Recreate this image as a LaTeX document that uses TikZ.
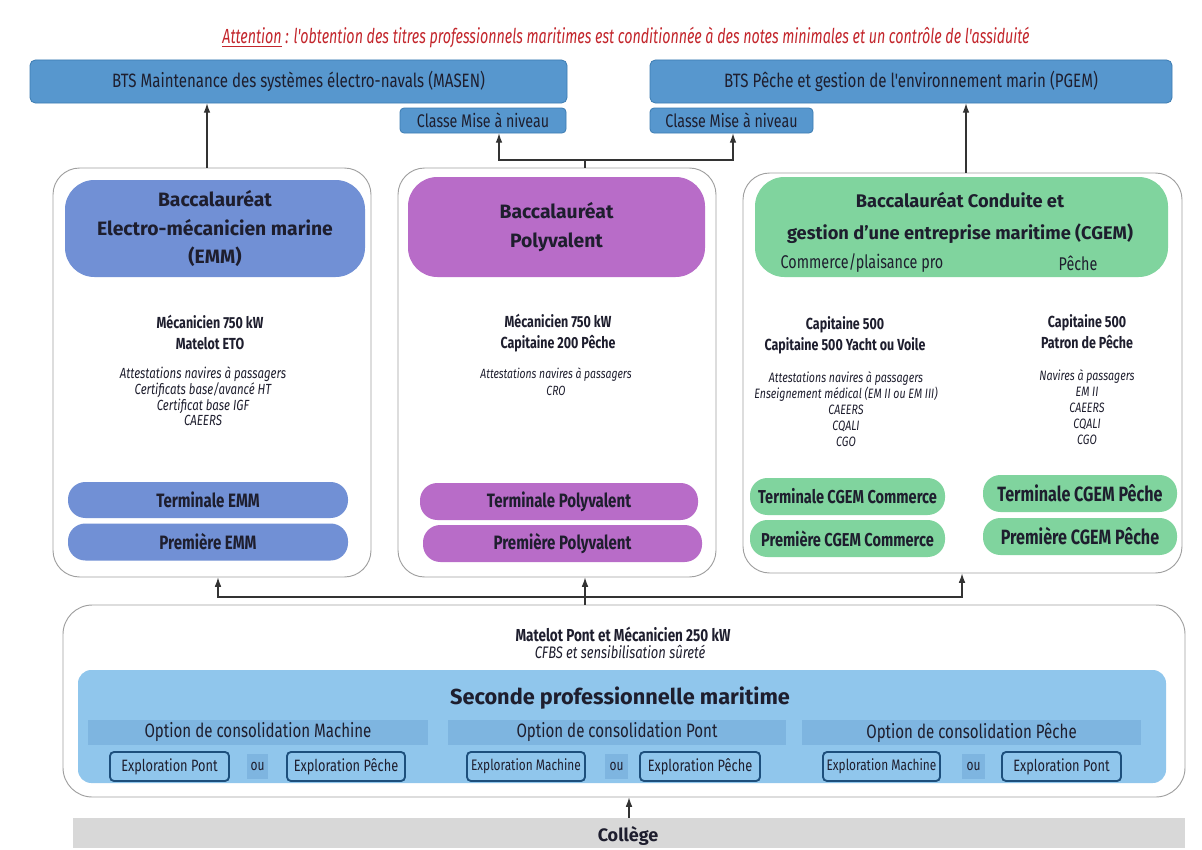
\documentclass[tikz,border=0pt]{standalone}
\usepackage{fontspec}
\setmainfont{Fira Sans}
\newfontfamily\cnd{Fira Sans}[FakeStretch=0.78]
\newfontfamily\cndt{Fira Sans}[FakeStretch=0.70]
\usetikzlibrary{arrows.meta}
\definecolor{ink}{HTML}{1E1E2E}
\definecolor{red1}{HTML}{C3262C}
\definecolor{btsc}{HTML}{5797CE}
\definecolor{btsd}{HTML}{3C7CB2}
\definecolor{emmc}{HTML}{7190D5}
\definecolor{polyc}{HTML}{B86CC8}
\definecolor{cgemc}{HTML}{80D49E}
\definecolor{secc}{HTML}{90C6EC}
\definecolor{optc}{HTML}{7EB5E0}
\definecolor{expd}{HTML}{1D4F7C}
\definecolor{colc}{HTML}{D8D8D8}
\definecolor{pgrey}{HTML}{A0A0A0}
\definecolor{lnc}{HTML}{333333}
\tikzset{
  wh/.style 2 args={minimum width=#1*0.75pt, minimum height=#2*0.75pt},
  bts/.style={rectangle, rounded corners=4pt, fill=btsc, draw=btsd, line width=0.6pt, inner sep=0pt, text=ink, font=\cnd\fontsize{14.5}{16}\selectfont},
  panel/.style={rectangle, rounded corners=20pt, fill=white, draw=pgrey, line width=0.7pt, inner sep=0pt},
  hdr/.style={rectangle, rounded corners=22pt, inner sep=0pt, align=center, text=ink, font=\bfseries\fontsize{14.5}{21.5}\selectfont},
  pill/.style={rectangle, rounded corners=13pt, inner sep=0pt, text=ink, font=\cnd\bfseries\fontsize{14.5}{16}\selectfont},
  btxt/.style={align=center, inner sep=0pt, text=ink, font=\cnd\bfseries\fontsize{12}{15.75}\selectfont},
  itxt/.style={align=center, inner sep=0pt, text=ink, font=\cnd\itshape\fontsize{10}{11.8}\selectfont},
  optbox/.style={rectangle, fill=optc, inner sep=0pt, text=ink, font=\cnd\fontsize{14.5}{16}\selectfont},
  expbox/.style={rectangle, rounded corners=3pt, fill=secc, draw=expd, line width=1.4pt, inner sep=0pt, text=ink, font=\cnd\fontsize{12.3}{14}\selectfont},
  oubox/.style={rectangle, fill=optc, inner sep=0pt, text=ink, font=\cnd\fontsize{11.5}{13}\selectfont},
  arr/.style={draw=lnc, line width=0.8pt, -{Latex[length=7pt,width=5pt]}},
  ln/.style={draw=lnc, line width=0.8pt}
}
\begin{document}
\begin{tikzpicture}[x=0.75pt,y=-0.75pt]
\useasboundingbox[fill=white] (0,0) rectangle (1202,849);

% title
\node[inner sep=0pt, text=red1, font=\cndt\itshape\fontsize{15.3}{17}\selectfont] (title) at (626,38)
  {\underline{Attention} : l'obtention des titres professionnels maritimes est conditionnée à des notes minimales et un contrôle de l'assiduité};

% BTS
\node[bts, wh={537}{43}] (bts1) at (298.5,81.5) {BTS Maintenance des systèmes électro-navals (MASEN)};
\node[bts, wh={522}{43}] (bts2) at (911,81.5) {BTS Pêche et gestion de l'environnement marin (PGEM)};
\node[bts, wh={166}{25}, rounded corners=3pt, font=\cnd\fontsize{13.7}{15}\selectfont] (cmn1) at (483,120.5) {Classe Mise à niveau};
\node[bts, wh={163}{25}, rounded corners=3pt, font=\cnd\fontsize{13.7}{15}\selectfont] (cmn2) at (731.5,120.5) {Classe Mise à niveau};

% panels
\node[panel, wh={318}{409}] (pEMM) at (212,372.5) {};
\node[panel, wh={318}{409}] (pPoly) at (557,372.5) {};
\node[panel, wh={439}{400}] (pCGEM) at (962.5,373) {};

% EMM
\node[hdr, fill=emmc, wh={300}{97}] (hEMM) at (215,228.5) {Baccalauréat\\Electro-mécanicien marine\\(EMM)};
\node[btxt] (bEMM) at (210,332.5) {Mécanicien 750 kW\\Matelot ETO};
\node[itxt, font=\cnd\itshape\fontsize{11}{11.8}\selectfont] (iEMM) at (203,396.5) {Attestations navires à passagers\\Certificats base/avancé HT\\Certificat base IGF\\CAEERS};
\node[pill, fill=emmc, wh={280}{36}] (tEMM) at (208,500) {Terminale EMM};
\node[pill, fill=emmc, wh={280}{37}] (prEMM) at (208,542) {Première EMM};

% Polyvalent
\node[hdr, fill=polyc, wh={297}{100}, font=\bfseries\fontsize{14.5}{22}\selectfont] (hPoly) at (556.5,227) {Baccalauréat\\Polyvalent};
\node[btxt] (bPoly) at (558,333) {Mécanicien 750 kW\\Capitaine 200 Pêche};
\node[itxt, font=\cnd\itshape\fontsize{10}{12.5}\selectfont] (iPoly) at (556,381.5) {Attestations navires à passagers\\CRO};
\node[pill, fill=polyc, wh={278}{37}] (tPoly) at (559,501.5) {Terminale Polyvalent};
\node[pill, fill=polyc, wh={279}{37}] (prPoly) at (562.5,543.5) {Première Polyvalent};

% CGEM
\node[hdr, fill=cgemc, wh={413}{100}] (hCGEM) at (961.5,227) {};
\node[align=center, inner sep=0pt, text=ink, font=\bfseries\fontsize{13.7}{23.5}\selectfont] (ttCGEM) at (960,218) {Baccalauréat Conduite et\\gestion d'une entreprise maritime (CGEM)};
\node[inner sep=0pt, text=ink, font=\cnd\fontsize{13.8}{15}\selectfont] (cpp) at (862,263) {Commerce/plaisance pro};
\node[inner sep=0pt, text=ink, font=\cnd\fontsize{13.8}{15}\selectfont] (pch) at (1078,263) {Pêche};
\node[btxt] (bCGEMc) at (845,335) {Capitaine 500\\Capitaine 500 Yacht ou Voile};
\node[itxt, font=\cnd\itshape\fontsize{10.2}{12}\selectfont] (iCGEMc) at (846,409) {Attestations navires à passagers\\Enseignement médical (EM II ou EM III)\\CAEERS\\CQALI\\CGO};
\node[btxt] (bCGEMp) at (1087,332) {Capitaine 500\\Patron de Pêche};
\node[itxt, font=\cnd\itshape\fontsize{10.2}{12}\selectfont] (iCGEMp) at (1087,407) {Navires à passagers\\EM II\\CAEERS\\CQALI\\CGO};
\node[pill, fill=cgemc, wh={195}{37}, font=\cnd\bfseries\fontsize{14}{16}\selectfont] (tCGEMc) at (847.5,496.5) {Terminale CGEM Commerce};
\node[pill, fill=cgemc, wh={195}{37}, font=\cnd\bfseries\fontsize{14}{16}\selectfont] (prCGEMc) at (847.5,538.5) {Première CGEM Commerce};
\node[pill, fill=cgemc, wh={194}{37}, font=\cnd\bfseries\fontsize{15.5}{17}\selectfont] (tCGEMp) at (1080,493.5) {Terminale CGEM Pêche};
\node[pill, fill=cgemc, wh={194}{37}, font=\cnd\bfseries\fontsize{15.5}{17}\selectfont] (prCGEMp) at (1080,536.5) {Première CGEM Pêche};

% bottom panel
\node[panel, wh={1122}{192}, rounded corners=22pt] (pSec) at (624,701) {};
\node[btxt, font=\cnd\bfseries\fontsize{13}{15}\selectfont] (mat) at (623,634) {Matelot Pont et Mécanicien 250 kW};
\node[itxt, font=\cnd\itshape\fontsize{12.5}{14}\selectfont] (cfbs) at (620,652) {CFBS et sensibilisation sûreté};
\node[rectangle, rounded corners=10pt, fill=secc, inner sep=0pt, wh={1088}{113}] (sec) at (622,726.5) {};
\node[inner sep=0pt, text=ink, font=\bfseries\fontsize{16.3}{18}\selectfont] (secT) at (620,698) {Seconde professionnelle maritime};
\node[optbox, wh={340}{25}] (opt1) at (258,732.5) {Option de consolidation Machine};
\node[optbox, wh={338}{25}] (opt2) at (617,732.5) {Option de consolidation Pont};
\node[optbox, wh={339}{25}] (opt3) at (971.5,732.5) {Option de consolidation Pêche};
\node[expbox, wh={119}{29}] (e1) at (169.5,766.5) {Exploration Pont};
\node[oubox, wh={21}{25}] (ou1) at (257.5,766.5) {ou};
\node[expbox, wh={118}{29}] (e2) at (346,766.5) {Exploration Pêche};
\node[expbox, wh={118}{29}, font=\cnd\fontsize{11.4}{13}\selectfont] (e3) at (526,766.5) {Exploration Machine};
\node[oubox, wh={23}{25}] (ou2) at (616.5,766.5) {ou};
\node[expbox, wh={120}{29}] (e4) at (700,766.5) {Exploration Pêche};
\node[expbox, wh={117}{29}, font=\cnd\fontsize{11.4}{13}\selectfont] (e5) at (881.5,766.5) {Exploration Machine};
\node[oubox, wh={23}{25}] (ou3) at (973.5,766.5) {ou};
\node[expbox, wh={119}{29}] (e6) at (1061.5,766.5) {Exploration Pont};

% college
\node[rectangle, fill=colc, inner sep=0pt, wh={1112}{30}] (col) at (629,833) {};
\node[inner sep=0pt, text=ink, font=\bfseries\fontsize{13.5}{15}\selectfont] (colT) at (628,836) {Collège};

% connectors
\coordinate (xEMM) at (207,0);
\coordinate (xCGEM) at (966,0);
\coordinate (jTop) at (585,160);
\coordinate (xC1) at (499,0);
\coordinate (xC2) at (733,0);
\coordinate (jBot) at (585,597);
\coordinate (xL) at (218,0);
\coordinate (xR) at (962,0);
\coordinate (xCol) at (629,0);

\draw[arr] (pEMM.north -| xEMM) -- (bts1.south -| xEMM);
\draw[arr] (pCGEM.north -| xCGEM) -- (bts2.south -| xCGEM);
\draw[ln] (pPoly.north -| jTop) -- (jTop);
\draw[arr] (jTop) -| (cmn1.south -| xC1);
\draw[arr] (jTop) -| (cmn2.south -| xC2);

\draw[arr] (pSec.north -| jBot) -- (pPoly.south -| jBot);
\draw[arr] (jBot) -| (pEMM.south -| xL);
\draw[arr] (jBot) -| (pCGEM.south -| xR);
\draw[arr] (col.north -| xCol) -- (pSec.south -| xCol);
\end{tikzpicture}
\end{document}
